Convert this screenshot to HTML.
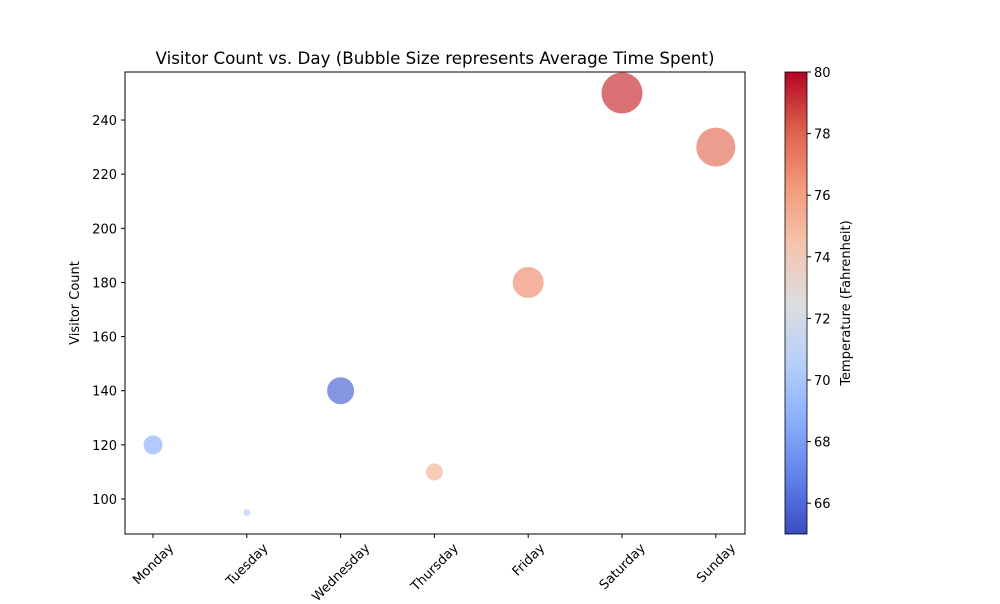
<!DOCTYPE html>
<html><head><meta charset="utf-8"><style>
body{margin:0;background:#fff;font-family:"DejaVu Sans","Liberation Sans",sans-serif}
</style></head><body>
<svg id="chart" width="1000" height="600" xmlns="http://www.w3.org/2000/svg" font-family="DejaVu Sans, Liberation Sans, sans-serif">
<defs>
<linearGradient id="cmap" x1="0" y1="1" x2="0" y2="0">
<stop offset="0" stop-color="rgb(59,76,192)"/>
<stop offset="0.125" stop-color="rgb(98,130,234)"/>
<stop offset="0.25" stop-color="rgb(141,176,254)"/>
<stop offset="0.375" stop-color="rgb(184,208,249)"/>
<stop offset="0.5" stop-color="rgb(221,221,221)"/>
<stop offset="0.625" stop-color="rgb(245,196,173)"/>
<stop offset="0.75" stop-color="rgb(244,154,123)"/>
<stop offset="0.875" stop-color="rgb(222,96,77)"/>
<stop offset="1" stop-color="rgb(180,4,38)"/>
</linearGradient>
</defs>
<text x="435" y="64" text-anchor="middle" font-size="16.7">Visitor Count vs. Day (Bubble Size represents Average Time Spent)</text>
<g id="plot"></g>
<rect x="125" y="72" width="620" height="462" fill="none" stroke="#000" stroke-width="1"/>
<text transform="translate(79,303) rotate(-90)" text-anchor="middle" font-size="13">Visitor Count</text>
<rect x="785" y="72" width="22" height="462" fill="url(#cmap)" stroke="#000" stroke-width="0.8"/>
<g id="cbticks"></g>
<text transform="translate(850,303) rotate(-90)" text-anchor="middle" font-size="13">Temperature (Fahrenheit)</text>
</svg>
<script>
const days=["Monday","Tuesday","Wednesday","Thursday","Friday","Saturday","Sunday"];
const visitors=[120,95,140,110,180,250,230];
const timeSpent=[10,4,14,9,16,21,20];
const temps=[69,71,66,75,76.5,79,77.5];
const yTicks=[100,120,140,160,180,200,220,240];
const cTicks=[66,68,70,72,74,76,78,80];
const NS="http://www.w3.org/2000/svg";
const x=i=>153+i*93.8;
const y=v=>499-(v-100)*2.707;
const cy=t=>534-(t-65)*(462/15);
const stops=[[59,76,192],[98,130,234],[141,176,254],[184,208,249],[221,221,221],[245,196,173],[244,154,123],[222,96,77],[180,4,38]];
function cmap(t){let f=Math.max(0,Math.min(1,(t-65)/15))*8;let i=Math.min(7,Math.floor(f)),r=f-i;
const c=stops[i].map((v,k)=>Math.round(v+(stops[i+1][k]-v)*r));return `rgb(${c})`;}
function el(tag,attrs,parent){const e=document.createElementNS(NS,tag);for(const k in attrs)e.setAttribute(k,attrs[k]);parent.appendChild(e);return e;}
const plot=document.getElementById('plot');
yTicks.forEach(v=>{
 const t=el('line',{x1:121,x2:125,y1:y(v),y2:y(v),stroke:'#000'},plot);
 
 
 const l=el('text',{x:117,y:y(v)+5,'text-anchor':'end','font-size':13},plot);
 l.textContent=v;
 
 
});
days.forEach((d,i)=>{
 const t=el('line',{x1:x(i),x2:x(i),y1:534,y2:538,stroke:'#000'},plot);
 
 
 const l=el('text',{'text-anchor':'middle','font-size':13},plot);
 l.textContent=d;
 
 
 const w=l.getComputedTextLength(), h=13;
 const half=(w*0.7071+h*0.7071)/2;
 l.setAttribute('transform',`translate(${x(i)},${541+half}) rotate(-45) translate(0,${h*0.35})`);
 const c=el('circle',{cx:x(i),cy:y(visitors[i]),r:timeSpent[i],fill:cmap(temps[i]),'fill-opacity':0.7,stroke:'#fff','stroke-width':1},plot);
 
 
});
const cb=document.getElementById('cbticks');
cTicks.forEach(v=>{
 const t=el('line',{x1:807,x2:811,y1:cy(v),y2:cy(v),stroke:'#000'},cb);
 
 
 const l=el('text',{x:814,y:cy(v)+5,'font-size':13},cb);
 l.textContent=v;
 
 
});
</script>
</body></html>
